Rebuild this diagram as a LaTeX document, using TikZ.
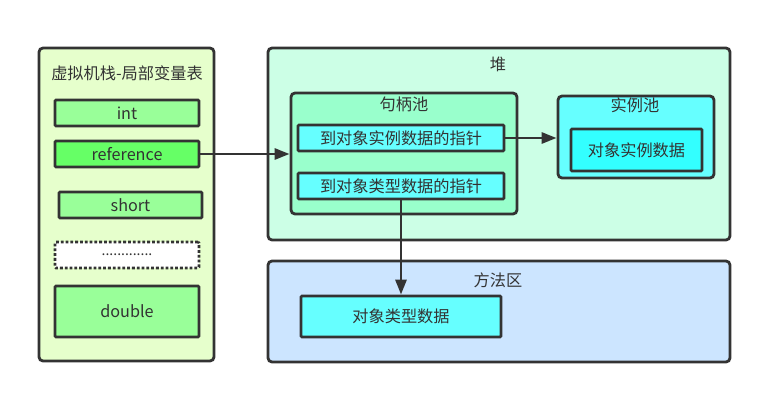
\documentclass[tikz,border=0pt]{standalone}
\usepackage{fontspec}
\setmainfont{Noto Sans CJK SC}
\usetikzlibrary{arrows.meta}
\definecolor{ln}{HTML}{333333}
\definecolor{stackbg}{HTML}{E6FFCC}
\definecolor{lgreen}{HTML}{99FF99}
\definecolor{mgreen}{HTML}{66FF66}
\definecolor{heapbg}{HTML}{CCFFE6}
\definecolor{handlebg}{HTML}{99FFCC}
\definecolor{cyanA}{HTML}{66FFFF}
\definecolor{cyanB}{HTML}{33FFFF}
\definecolor{methodbg}{HTML}{CCE5FF}
\begin{document}
\begin{tikzpicture}[x=1pt,y=-1pt,
  every node/.style={text=ln, font=\fontsize{16.2}{19}\selectfont, inner sep=0pt},
  panel/.style={draw=ln, line width=2.8pt, rounded corners=4pt},
  cell/.style={draw=ln, line width=2.8pt, rounded corners=1pt},
  conn/.style={draw=ln, line width=2.8pt, -{Triangle[length=15pt,width=11pt]}}
]
\useasboundingbox (0,0) rectangle (776,405);
% stack
\node[panel, fill=stackbg, minimum width=175pt, minimum height=313pt] (stack) at (126.5,204.5) {};
\node (stackt) at (127,73) {虚拟机栈-局部变量表};
\node[cell, fill=lgreen, minimum width=144pt, minimum height=26pt] (int) at (127,113) {int};
\node[cell, fill=mgreen, minimum width=144pt, minimum height=26pt] (ref) at (127,154) {reference};
\node[cell, fill=lgreen, minimum width=143pt, minimum height=26pt] (short) at (130.5,205) {short};
\node[cell, fill=white, dotted, minimum width=144pt, minimum height=26pt] (dots) at (127,255) {\fontsize{14}{16}\selectfont .............};
\node[cell, fill=lgreen, minimum width=144pt, minimum height=51pt] (double) at (127,311.5) {double};
% heap
\node[panel, fill=heapbg, minimum width=462pt, minimum height=192pt] (heap) at (499,144) {};
\node (heapt) at (498,64) {堆};
\node[panel, fill=handlebg, minimum width=226pt, minimum height=121pt] (handle) at (404,153.5) {};
\node (handlet) at (404,104) {句柄池};
\node[cell, fill=cyanA, minimum width=206pt, minimum height=26pt] (p1) at (401,138) {到对象实例数据的指针};
\node[cell, fill=cyanA, minimum width=206pt, minimum height=26pt] (p2) at (401,186) {到对象类型数据的指针};
\node[panel, fill=cyanA, minimum width=156pt, minimum height=82pt] (inst) at (636,137) {};
\node (instt) at (635,105) {实例池};
\node[cell, fill=cyanB, minimum width=131pt, minimum height=42pt] (idata) at (636.5,150) {对象实例数据};
% method area
\node[panel, fill=methodbg, minimum width=462pt, minimum height=101pt] (method) at (499,311.5) {};
\node (methodt) at (498,280) {方法区};
\node[cell, fill=cyanA, minimum width=200pt, minimum height=41pt] (tdata) at (401,316.5) {对象类型数据};
% connectors
\draw[conn] (ref.east) -- (ref.east -| handle.west);
\draw[conn] (p1.east) -- (p1.east -| inst.west);
\draw[conn] (p2.south) -- (tdata.north);
\end{tikzpicture}
\end{document}
